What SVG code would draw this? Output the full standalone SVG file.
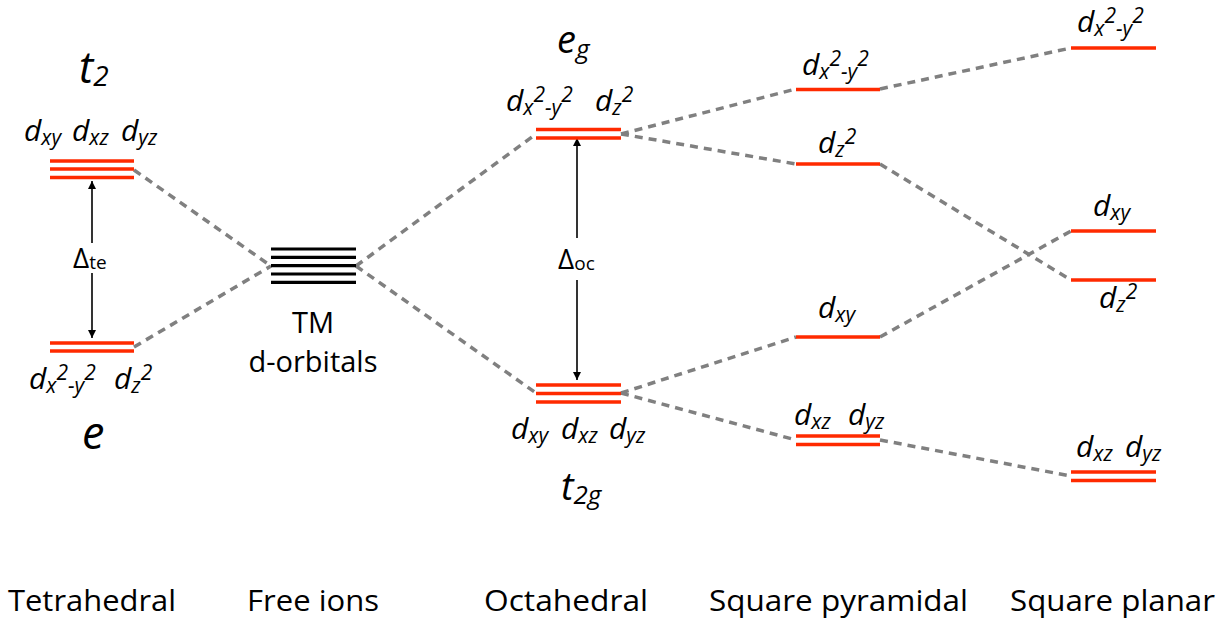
<svg xmlns="http://www.w3.org/2000/svg" width="1226" height="620" viewBox="0 0 1226 620">
<defs>
<style>
.lv{stroke:#ff2a00;stroke-width:3.5;fill:none}
.bk{stroke:#000;stroke-width:3.2;fill:none}
.dash{stroke:#808080;stroke-width:3.5;stroke-dasharray:8 6;fill:none}
.arr{stroke:#000;stroke-width:1.6;fill:none}
.orb{font-family:"Open Sans","Noto Sans",sans-serif;font-style:italic;font-size:30px;fill:#000}
.sub{font-size:21px}
.big{font-family:"Open Sans","Noto Sans",sans-serif;font-style:italic;fill:#000}
.lab{font-family:"Open Sans","Noto Sans",sans-serif;font-size:29px;fill:#000}
.del{font-family:"Open Sans","Noto Sans",sans-serif;font-size:28px;fill:#000}
</style>
<marker id="ah" viewBox="0 0 10 10" refX="10" refY="5" markerWidth="8" markerHeight="9" markerUnits="userSpaceOnUse" orient="auto-start-reverse">
<path d="M0,0 L10,5 L0,10 z" fill="#000"/>
</marker>
</defs>
<rect width="1226" height="620" fill="#fff"/>

<g id="connectors">
<line class="dash" x1="134" y1="170" x2="271" y2="266"/>
<line class="dash" x1="134" y1="347" x2="271" y2="266"/>
<line class="dash" x1="356" y1="266" x2="536" y2="134"/>
<line class="dash" x1="356" y1="266" x2="536" y2="393"/>
<line class="dash" x1="621" y1="134" x2="796" y2="89"/>
<line class="dash" x1="621" y1="134" x2="796" y2="164"/>
<line class="dash" x1="621" y1="393" x2="796" y2="337"/>
<line class="dash" x1="621" y1="393" x2="796" y2="440"/>
<line class="dash" x1="880" y1="89" x2="1071" y2="48"/>
<line class="dash" x1="880" y1="164" x2="1071" y2="280"/>
<line class="dash" x1="880" y1="337" x2="1071" y2="231"/>
<line class="dash" x1="880" y1="440" x2="1071" y2="476"/>
<line class="arr" x1="92" y1="243" x2="92" y2="181" marker-end="url(#ah)"/>
<line class="arr" x1="92" y1="273" x2="92" y2="338" marker-end="url(#ah)"/>
<line class="arr" x1="577" y1="238" x2="577" y2="138" marker-end="url(#ah)"/>
<line class="arr" x1="577" y1="280" x2="577" y2="380" marker-end="url(#ah)"/>
</g>

<g id="tet-t2">
<line class="lv" x1="50" y1="161" x2="134" y2="161"/>
<line class="lv" x1="50" y1="169" x2="134" y2="169"/>
<line class="lv" x1="50" y1="177.5" x2="134" y2="177.5"/>
<text class="orb" x="24" y="141">d<tspan class="sub" dy="4">xy</tspan></text>
<text class="orb" x="72" y="141">d<tspan class="sub" dy="4">xz</tspan></text>
<text class="orb" x="121" y="141">d<tspan class="sub" dy="4">yz</tspan></text>
<text class="big" x="79" y="83" font-size="43">t<tspan font-size="28" dy="3">2</tspan></text>
</g>

<g id="tet-e">
<line class="lv" x1="50" y1="343" x2="134" y2="343"/>
<line class="lv" x1="50" y1="351" x2="134" y2="351"/>
<text class="orb" x="29" y="389">d<tspan class="sub" dy="4">x</tspan><tspan class="sub" dy="-13">2</tspan><tspan class="sub" dy="13">-y</tspan><tspan class="sub" dy="-13">2</tspan></text>
<text class="orb" x="114" y="389">d<tspan class="sub" dy="4">z</tspan><tspan class="sub" dy="-13">2</tspan></text>
<text class="big" x="82" y="449" font-size="45">e</text>
</g>

<g id="delta-te">
<text class="del" x="73" y="268">Δ<tspan font-size="19" dy="1">te</tspan></text>
</g>

<g id="free-ions">
<line class="bk" x1="271" y1="249" x2="356" y2="249"/>
<line class="bk" x1="271" y1="257.3" x2="356" y2="257.3"/>
<line class="bk" x1="271" y1="265.7" x2="356" y2="265.7"/>
<line class="bk" x1="271" y1="274" x2="356" y2="274"/>
<line class="bk" x1="271" y1="282.3" x2="356" y2="282.3"/>
<text class="lab" x="313" y="333" text-anchor="middle">TM</text>
<text class="lab" x="313" y="372" text-anchor="middle">d-orbitals</text>
</g>

<g id="oct-eg">
<line class="lv" x1="536" y1="129.5" x2="621" y2="129.5"/>
<line class="lv" x1="536" y1="138" x2="621" y2="138"/>
<text class="orb" x="506" y="111">d<tspan class="sub" dy="4">x</tspan><tspan class="sub" dy="-13">2</tspan><tspan class="sub" dy="13">-y</tspan><tspan class="sub" dy="-13">2</tspan></text>
<text class="orb" x="595" y="111">d<tspan class="sub" dy="4">z</tspan><tspan class="sub" dy="-13">2</tspan></text>
<text class="big" x="557" y="53" font-size="38">e<tspan font-size="26" dy="5">g</tspan></text>
</g>

<g id="oct-t2g">
<line class="lv" x1="536" y1="385" x2="621" y2="385"/>
<line class="lv" x1="536" y1="393.5" x2="621" y2="393.5"/>
<line class="lv" x1="536" y1="402" x2="621" y2="402"/>
<text class="orb" x="511" y="439">d<tspan class="sub" dy="4">xy</tspan></text>
<text class="orb" x="561" y="439">d<tspan class="sub" dy="4">xz</tspan></text>
<text class="orb" x="609" y="439">d<tspan class="sub" dy="4">yz</tspan></text>
<text class="big" x="561" y="500" font-size="38">t<tspan font-size="26" dy="4">2g</tspan></text>
</g>

<g id="delta-oc">
<text class="del" x="558" y="269">Δ<tspan font-size="19" dy="1">oc</tspan></text>
</g>

<g id="sp-x2y2">
<line class="lv" x1="796" y1="89.5" x2="880" y2="89.5"/>
<text class="orb" x="802" y="75">d<tspan class="sub" dy="4">x</tspan><tspan class="sub" dy="-13">2</tspan><tspan class="sub" dy="13">-y</tspan><tspan class="sub" dy="-13">2</tspan></text>
</g>
<g id="sp-z2">
<line class="lv" x1="796" y1="164" x2="880" y2="164"/>
<text class="orb" x="818" y="153">d<tspan class="sub" dy="4">z</tspan><tspan class="sub" dy="-13">2</tspan></text>
</g>
<g id="sp-xy">
<line class="lv" x1="796" y1="337" x2="880" y2="337"/>
<text class="orb" x="818" y="318">d<tspan class="sub" dy="4">xy</tspan></text>
</g>
<g id="sp-xzyz">
<line class="lv" x1="796" y1="436" x2="880" y2="436"/>
<line class="lv" x1="796" y1="444.5" x2="880" y2="444.5"/>
<text class="orb" x="794" y="425">d<tspan class="sub" dy="4">xz</tspan></text>
<text class="orb" x="848" y="425">d<tspan class="sub" dy="4">yz</tspan></text>
</g>

<g id="spl-x2y2">
<line class="lv" x1="1071" y1="48" x2="1156" y2="48"/>
<text class="orb" x="1077" y="32">d<tspan class="sub" dy="4">x</tspan><tspan class="sub" dy="-13">2</tspan><tspan class="sub" dy="13">-y</tspan><tspan class="sub" dy="-13">2</tspan></text>
</g>
<g id="spl-xy">
<line class="lv" x1="1071" y1="231" x2="1156" y2="231"/>
<text class="orb" x="1093" y="216">d<tspan class="sub" dy="4">xy</tspan></text>
</g>
<g id="spl-z2">
<line class="lv" x1="1071" y1="280" x2="1156" y2="280"/>
<text class="orb" x="1099" y="308">d<tspan class="sub" dy="4">z</tspan><tspan class="sub" dy="-13">2</tspan></text>
</g>
<g id="spl-xzyz">
<line class="lv" x1="1071" y1="472" x2="1156" y2="472"/>
<line class="lv" x1="1071" y1="480.5" x2="1156" y2="480.5"/>
<text class="orb" x="1076" y="457">d<tspan class="sub" dy="4">xz</tspan></text>
<text class="orb" x="1125" y="457">d<tspan class="sub" dy="4">yz</tspan></text>
</g>

<g id="titles">
<text class="lab" x="8" y="611" textLength="168" lengthAdjust="spacingAndGlyphs">Tetrahedral</text>
<text class="lab" x="247" y="611" textLength="132" lengthAdjust="spacingAndGlyphs">Free ions</text>
<text class="lab" x="484" y="611" textLength="164" lengthAdjust="spacingAndGlyphs">Octahedral</text>
<text class="lab" x="709" y="611" textLength="259" lengthAdjust="spacingAndGlyphs">Square pyramidal</text>
<text class="lab" x="1010" y="611" textLength="205" lengthAdjust="spacingAndGlyphs">Square planar</text>
</g>
</svg>
